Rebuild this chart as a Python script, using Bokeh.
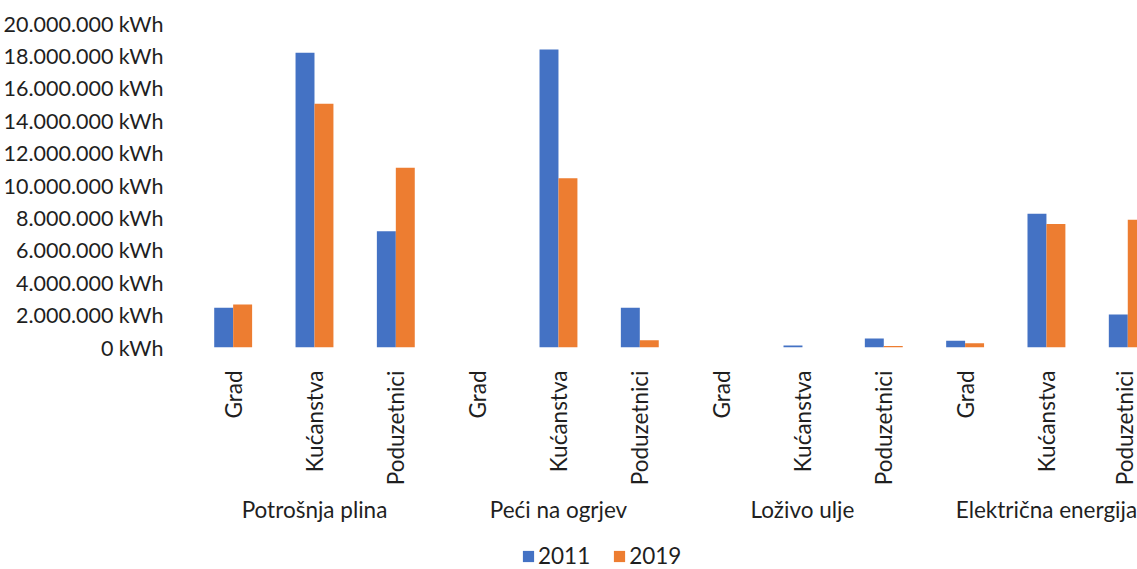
from bokeh.plotting import figure
from bokeh.layouts import column
from bokeh.models import (Range1d, LinearAxis, FixedTicker, CustomJSTickFormatter,
                          Legend, LegendItem, ColumnDataSource)
from bokeh.transform import dodge
from bokeh.embed import file_html
from bokeh.resources import INLINE
import numpy as np

# ---- data ----
groups = ["Potrošnja plina", "Peći na ogrjev", "Loživo ulje", "Električna energija"]
subcats = ["Grad", "Kućanstva", "Poduzetnici"]
series_names = ["2011", "2019"]
values_2011 = [2460000, 18200000, 7180000,
               0, 18400000, 2460000,
               0, 130000, 560000,
               410000, 8260000, 2040000]
values_2019 = [2660000, 15050000, 11100000,
               0, 10440000, 450000,
               0, 0, 90000,
               270000, 7620000, 7890000]
y_ticks = list(range(0, 20000001, 2000000))

FONT = "Lato"
FS = "22.5px"
TEXT = "#1f1f1f"
BLUE = "#4472C4"
ORANGE = "#ED7D31"
COLORS = [BLUE, ORANGE]

labels = [s for g in groups for s in subcats]
idx = np.arange(len(labels))
group_centers = [i * len(subcats) + (len(subcats) - 1) / 2 for i in range(len(groups))]

src = ColumnDataSource(dict(x=idx, v2011=values_2011, v2019=values_2019))

W = 1137
H_MAIN, H_LEG = 525, 44
left, top_b = 190, 23
frame_bottom = 348
frame_w = W - left
px_per_cat = 81.5

p = figure(width=W, height=H_MAIN, output_backend="svg", toolbar_location=None,
           x_range=Range1d(-0.5, -0.5 + frame_w / px_per_cat),
           y_range=Range1d(0, 20000000),
           min_border_left=left, min_border_right=0,
           min_border_top=top_b, min_border_bottom=H_MAIN - frame_bottom,
           x_axis_location=None)
p.outline_line_color = None
p.xgrid.visible = False
p.ygrid.visible = False

bw = 0.233
r1 = p.vbar(x=dodge("x", -bw / 2, range=p.x_range), top="v2011", width=bw,
            source=src, fill_color=BLUE, line_color=None)
r2 = p.vbar(x=dodge("x", bw / 2, range=p.x_range), top="v2019", width=bw,
            source=src, fill_color=ORANGE, line_color=None)

# y axis
ya = p.yaxis[0]
ya.ticker = FixedTicker(ticks=y_ticks)
ya.formatter = CustomJSTickFormatter(code="""
return Math.round(tick).toFixed(0).replace(/\\B(?=(\\d{3})+(?!\\d))/g, '.') + ' kWh';
""")
ya.axis_line_color = None
ya.major_tick_line_color = None
ya.minor_tick_line_color = None
ya.major_label_standoff = 23
ya.major_label_text_font = FONT
ya.major_label_text_font_size = "21.5px"
ya.major_label_text_color = TEXT

# sub-category axis
xa = LinearAxis(ticker=FixedTicker(ticks=list(idx)),
                major_label_overrides={int(i): l for i, l in zip(idx, labels)})
xa.major_label_orientation = np.pi / 2
xa.axis_line_color = None
xa.major_tick_line_color = None
xa.minor_tick_line_color = None
xa.major_label_standoff = 17
xa.major_label_text_font = FONT
xa.major_label_text_font_size = FS
xa.major_label_text_color = TEXT
p.add_layout(xa, "below")

# group axis
ga = LinearAxis(ticker=FixedTicker(ticks=group_centers),
                major_label_overrides={float(c): g for c, g in zip(group_centers, groups)})
ga.axis_line_color = None
ga.major_tick_line_color = None
ga.minor_tick_line_color = None
ga.major_label_standoff = 1
ga.major_label_text_font = FONT
ga.major_label_text_font_size = FS
ga.major_label_text_color = TEXT
p.add_layout(ga, "below")

# legend figure (frame aligned with main figure's frame by the column layout)
lf = figure(width=W, height=H_LEG, output_backend="svg", toolbar_location=None,
            x_range=Range1d(0, 1), y_range=Range1d(0, 1),
            min_border=0, x_axis_location=None, y_axis_location=None)
lf.outline_line_color = None
lf.xgrid.visible = False
lf.ygrid.visible = False
offscreen = ColumnDataSource(dict(x=[-10], top=[0]))
lr = [lf.vbar(x="x", top="top", width=0.01, source=offscreen, fill_color=c,
              line_color=None) for c in COLORS]
legend = Legend(items=[LegendItem(label=n, renderers=[r]) for n, r in zip(series_names, lr)],
                orientation="horizontal", location=(519 - left, 0))
legend.label_text_font = FONT
legend.label_text_font_size = FS
legend.label_text_color = TEXT
legend.label_height = 14
legend.glyph_width = 14
legend.glyph_height = 14
legend.label_standoff = 3
legend.spacing = 22
legend.padding = 0
legend.margin = 0
legend.border_line_color = None
legend.background_fill_alpha = 0
lf.add_layout(legend, "center")

layout = column(p, lf, spacing=0)
open("out.html", "w").write(file_html(layout, INLINE))
